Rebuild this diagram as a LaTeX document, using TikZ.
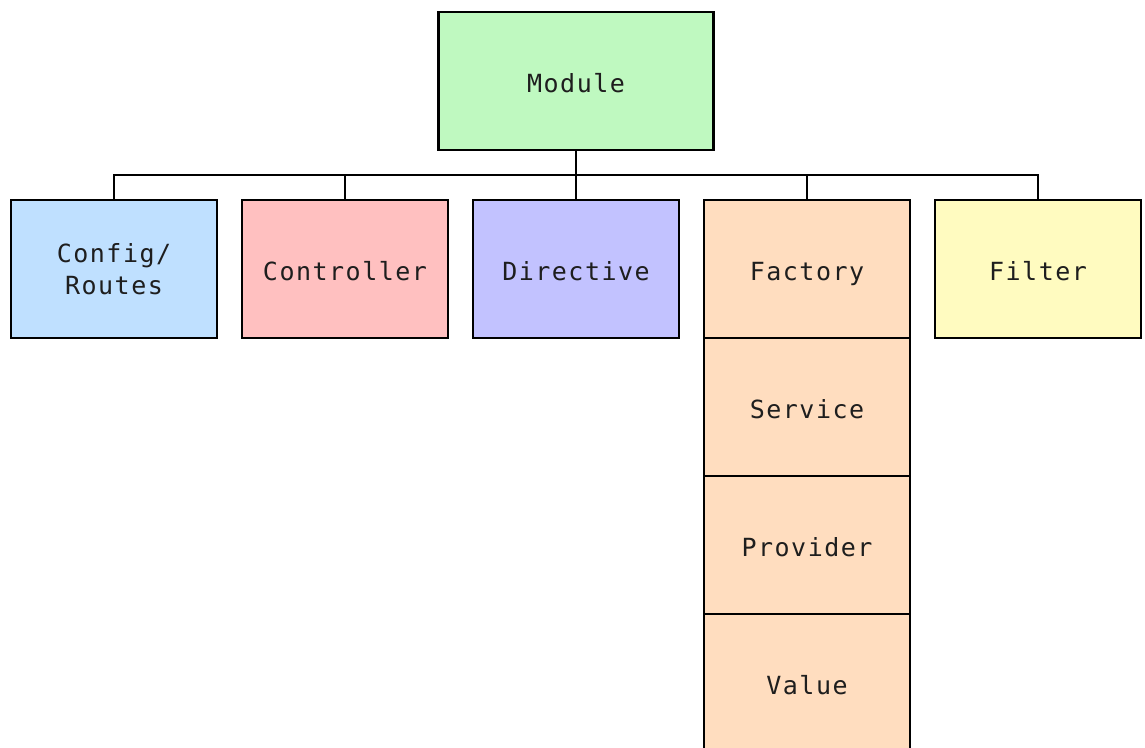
\documentclass[tikz,border=0pt]{standalone}
\usepackage{fontspec}
\newfontfamily\boxfont[LetterSpace=6]{DejaVu Sans Mono}
\definecolor{modgreen}{HTML}{BFF9C0}
\definecolor{cfgblue}{HTML}{BFE0FF}
\definecolor{ctlpink}{HTML}{FFC0C0}
\definecolor{dirviolet}{HTML}{C2C2FF}
\definecolor{svcpeach}{HTML}{FFDDBF}
\definecolor{fltyellow}{HTML}{FFFBC0}
\definecolor{ink}{HTML}{1E1E1E}
\tikzset{
  part/.style={draw=black, line width=2.8pt, minimum width=206pt, minimum height=138pt,
    inner sep=0pt, text height=24pt, text depth=2pt,
    font=\boxfont\fontsize{25pt}{32pt}\selectfont, text=ink},
  link/.style={draw=black, line width=2.4pt},
}
\begin{document}
\begin{tikzpicture}[x=1pt, y=-1pt]
  \useasboundingbox[fill=white] (0,0) rectangle (1145,747);
  % root
  \node[part, fill=modgreen, minimum width=275pt] (module) at (576,81) {Module};
  % first level
  \node[part, fill=cfgblue] (config) at (114,269)
    {\raisebox{2pt}{\begin{tabular}{@{}c@{}}Config/\\Routes\end{tabular}}};
  \node[part, fill=ctlpink]   (controller) at (345,269)  {Controller};
  \node[part, fill=dirviolet] (directive)  at (576,269)  {Directive};
  \node[part, fill=svcpeach]  (factory)    at (807,269)  {Factory};
  \node[part, fill=fltyellow] (filter)     at (1038,269) {Filter};
  % stacked services under the factory
  \node[part, fill=svcpeach]  (service)  at (807,407) {Service};
  \node[part, fill=svcpeach]  (provider) at (807,545) {Provider};
  \node[part, fill=svcpeach]  (value)    at (807,683) {Value};
  % tree connectors
  \coordinate (bus) at (576,175);
  \draw[link] (module.south) -- (directive.north);
  \draw[link] (config.north) |- (bus) -| (filter.north);
  \draw[link] (controller.north) -- (controller.north |- bus);
  \draw[link] (factory.north) -- (factory.north |- bus);
\end{tikzpicture}
\end{document}
